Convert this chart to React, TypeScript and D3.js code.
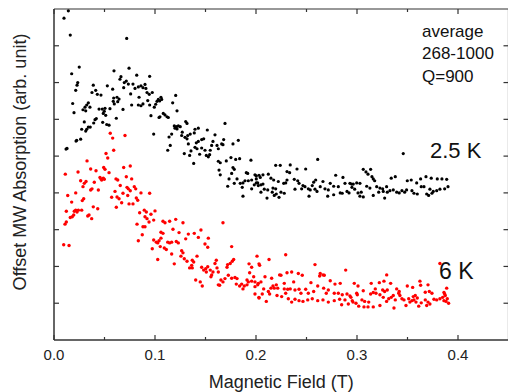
import React from "react";
import * as d3 from "d3";

// Field in mT, signal in arbitrary units (offset)
const series25K: [number, number][] = [
  [14.2, 8.95], [9.9, 8.75], [16.1, 8.29], [72.0, 8.2], [25.0, 7.42], [17.5, 7.24], [59.4, 7.32], [74.3, 7.39],
  [23.5, 7.0], [22.8, 6.93], [21.5, 6.79], [38.9, 6.93], [52.8, 6.91], [66.3, 7.16], [65.3, 7.09], [81.9, 7.2],
  [94.7, 7.17], [69.6, 7.0], [71.6, 7.04], [73.6, 6.96], [69.0, 6.86], [78.2, 6.96], [80.2, 6.84], [83.5, 6.88],
  [86.1, 6.91], [88.1, 6.86], [90.1, 6.95], [92.1, 6.73], [91.0, 6.84], [37.6, 6.73], [41.3, 6.79], [42.9, 6.68],
  [46.5, 6.66], [58.1, 6.82], [75.9, 6.69], [84.2, 6.6], [94.3, 6.68], [97.3, 6.73], [59.1, 6.58], [62.4, 6.6],
  [58.7, 6.49], [63.1, 6.48], [59.7, 6.42], [64.4, 6.55], [18.5, 6.43], [34.0, 6.45], [32.4, 6.39], [30.7, 6.33],
  [35.6, 6.33], [28.7, 6.26], [31.4, 6.23], [44.6, 6.28], [47.8, 6.28], [50.5, 6.3], [49.8, 6.22], [48.8, 6.16],
  [51.2, 6.11], [55.4, 6.29], [76.9, 6.39], [83.5, 6.39], [86.1, 6.37], [88.1, 6.42], [92.8, 6.51], [94.7, 6.39],
  [99.3, 6.33], [68.3, 6.27], [19.8, 6.18], [61.7, 6.03], [96.0, 6.1], [104.0, 6.05], [40.6, 5.99], [41.9, 6.02],
  [39.3, 5.9], [35.9, 5.79], [48.2, 5.92], [52.2, 5.86], [54.5, 5.84], [30.0, 5.93], [27.4, 5.73], [31.4, 5.68],
  [32.4, 5.73], [34.0, 5.79], [98.7, 5.6], [22.5, 5.43], [26.4, 5.46], [21.8, 5.41], [11.9, 5.19], [12.9, 5.21],
  [120.5, 6.65], [105.9, 6.6], [103.3, 6.54], [102.0, 6.49], [104.6, 6.5], [106.6, 6.54], [100.7, 6.41], [117.5, 6.45],
  [121.8, 6.23], [108.2, 6.16], [109.9, 6.12], [111.9, 6.07], [113.2, 6.05], [104.9, 6.07], [130.4, 5.94], [131.7, 5.89],
  [169.3, 5.89], [119.1, 5.82], [121.1, 5.8], [123.1, 5.82], [125.0, 5.8], [121.8, 5.74], [119.8, 5.76], [142.9, 5.76],
  [139.6, 5.73], [138.9, 5.63], [151.8, 5.71], [134.9, 5.6], [132.4, 5.56], [127.0, 5.65], [126.4, 5.56], [129.7, 5.51],
  [131.7, 5.47], [116.5, 5.6], [113.9, 5.52], [159.4, 5.58], [146.2, 5.45], [148.2, 5.47], [142.9, 5.4], [140.9, 5.36],
  [168.0, 5.45], [166.0, 5.33], [167.3, 5.31], [182.5, 5.43], [177.2, 5.33], [157.4, 5.4], [156.1, 5.29], [161.4, 5.29],
  [162.7, 5.2], [133.0, 5.33], [115.1, 5.29], [112.6, 5.16], [139.6, 5.24], [141.6, 5.2], [146.2, 5.22], [149.5, 5.16],
  [154.7, 5.16], [135.6, 5.14], [129.0, 5.07], [134.3, 5.02], [144.2, 5.05], [150.8, 5.02], [152.8, 4.98], [154.1, 5.04],
  [175.2, 4.96], [179.9, 4.91], [183.8, 4.93], [195.0, 4.89], [170.6, 4.87], [138.3, 4.8], [162.7, 4.86], [164.6, 4.82],
  [177.2, 4.69], [178.5, 4.64], [175.9, 4.53], [163.4, 4.62], [164.6, 4.49], [190.4, 4.55], [191.8, 4.53], [200.3, 4.46],
  [203.0, 4.48], [173.3, 4.38], [181.2, 4.38], [187.1, 4.27], [189.1, 4.33], [192.4, 4.33], [195.7, 4.35], [172.0, 4.18],
  [178.5, 4.26], [184.4, 4.26], [186.4, 4.15], [195.7, 4.11], [198.3, 4.22], [200.3, 4.27], [202.3, 4.2], [187.1, 3.91],
  [261.1, 4.91], [219.5, 4.75], [224.0, 4.75], [233.9, 4.76], [240.6, 4.65], [249.2, 4.65], [230.7, 4.58], [233.3, 4.55],
  [278.9, 4.48], [286.1, 4.42], [199.0, 4.49], [206.9, 4.49], [212.2, 4.51], [200.3, 4.38], [204.2, 4.42], [214.8, 4.4],
  [217.5, 4.35], [222.1, 4.31], [227.4, 4.26], [237.9, 4.37], [241.3, 4.33], [242.6, 4.26], [230.7, 4.35], [229.4, 4.27],
  [257.1, 4.29], [259.1, 4.35], [255.7, 4.2], [266.3, 4.31], [273.5, 4.26], [276.9, 4.18], [281.5, 4.17], [288.1, 4.26],
  [294.7, 4.24], [246.5, 4.2], [248.5, 4.17], [251.8, 4.11], [253.7, 4.08], [263.6, 4.17], [268.3, 4.11], [271.6, 4.08],
  [201.7, 4.27], [204.9, 4.22], [206.9, 4.24], [208.2, 4.1], [211.6, 4.08], [204.9, 4.02], [216.1, 4.02], [220.1, 3.97],
  [224.7, 4.02], [228.0, 3.99], [219.5, 4.11], [216.8, 4.13], [210.9, 3.86], [222.8, 3.88], [218.1, 3.93], [252.5, 3.91],
  [271.0, 3.91], [276.9, 3.95], [283.4, 4.0], [285.4, 3.99], [290.1, 4.04], [292.1, 4.0], [258.4, 4.1], [260.4, 4.04],
  [245.2, 4.11], [238.6, 4.1], [345.8, 5.07], [306.2, 4.64], [308.9, 4.57], [310.9, 4.51], [313.5, 4.64], [316.1, 4.38],
  [317.5, 4.33], [314.8, 4.44], [333.9, 4.4], [337.9, 4.44], [349.8, 4.33], [353.7, 4.35], [363.0, 4.38], [368.3, 4.44],
  [373.5, 4.4], [379.5, 4.38], [384.1, 4.38], [388.8, 4.37], [293.0, 4.26], [296.3, 4.24], [299.7, 4.27], [302.9, 4.26],
  [295.0, 4.15], [297.7, 4.1], [301.0, 4.0], [304.2, 4.02], [302.9, 3.91], [309.6, 4.18], [312.8, 4.13], [319.5, 4.17],
  [322.7, 4.13], [325.4, 4.11], [329.3, 4.17], [321.5, 4.02], [326.0, 4.04], [330.0, 4.02], [332.6, 4.06], [335.9, 4.08],
  [339.3, 4.02], [341.8, 4.0], [344.5, 4.06], [347.2, 4.02], [349.1, 4.08], [354.4, 4.06], [356.4, 3.99], [359.7, 3.97],
  [306.2, 3.89], [316.1, 3.93], [327.4, 3.86], [366.3, 4.17], [372.2, 4.1], [375.5, 4.04], [378.9, 4.06], [382.1, 4.1],
  [386.8, 4.11], [390.1, 4.17], [369.0, 3.97], [370.9, 3.93], [374.2, 3.99], [359.1, 4.27], [363.6, 4.17],
];

const series6K: [number, number][] = [
  [70.3, 5.56], [55.7, 5.62], [58.1, 5.49], [59.1, 5.16], [51.5, 5.07], [53.2, 4.95], [32.7, 4.87], [11.2, 4.51],
  [23.8, 4.57], [36.3, 4.65], [41.6, 4.6], [49.2, 4.69], [50.5, 4.64], [54.5, 4.55], [45.5, 4.42], [47.2, 4.35],
  [48.8, 4.4], [46.5, 4.38], [49.8, 4.37], [69.0, 4.69], [75.5, 4.73], [71.6, 4.44], [76.9, 4.38], [61.4, 4.38],
  [63.1, 4.35], [26.4, 4.33], [31.7, 4.31], [30.0, 4.26], [28.7, 4.17], [39.9, 4.29], [65.6, 4.2], [37.6, 4.11],
  [36.3, 4.08], [43.9, 4.08], [60.4, 4.04], [72.3, 4.15], [73.6, 4.11], [75.5, 4.06], [79.5, 4.17], [80.9, 4.11],
  [21.5, 4.0], [13.6, 3.93], [68.3, 3.99], [73.0, 3.93], [86.1, 4.0], [57.1, 3.88], [62.4, 3.89], [64.4, 3.84],
  [81.5, 3.86], [82.9, 3.8], [94.7, 3.99], [29.4, 3.84], [28.0, 3.79], [17.5, 3.75], [67.0, 3.73], [74.3, 3.7],
  [78.2, 3.7], [38.9, 3.62], [43.3, 3.57], [61.7, 3.61], [24.1, 3.53], [21.5, 3.53], [20.1, 3.5], [22.8, 3.48],
  [27.4, 3.53], [19.5, 3.4], [18.1, 3.35], [16.1, 3.33], [12.2, 3.5], [34.7, 3.4], [33.4, 3.37], [37.3, 3.3],
  [89.4, 3.53], [91.4, 3.48], [90.1, 3.35], [92.1, 3.3], [84.8, 3.46], [96.0, 3.42], [98.7, 3.26], [94.1, 3.21],
  [12.2, 3.21], [10.9, 3.15], [82.2, 3.15], [88.1, 3.08], [90.1, 3.08], [87.4, 2.86], [83.5, 2.7], [9.6, 2.59],
  [14.9, 2.57], [98.7, 2.72], [101.3, 2.66], [104.0, 2.7], [97.3, 2.48], [102.7, 2.19],
  [100.0, 3.51], [120.5, 3.28], [114.5, 3.23], [109.9, 3.19], [107.9, 3.23], [127.7, 3.19], [167.3, 3.19], [117.8, 3.01],
  [105.9, 2.93], [107.9, 2.9], [123.8, 2.92], [133.0, 2.88], [138.9, 2.9], [145.5, 2.99], [130.4, 2.75], [142.9, 2.79],
  [152.8, 2.77], [102.7, 2.64], [105.9, 2.77], [112.6, 2.66], [114.5, 2.64], [116.5, 2.66], [121.1, 2.68], [123.1, 2.64],
  [149.5, 2.61], [152.2, 2.52], [105.2, 2.54], [109.2, 2.5], [111.2, 2.46], [175.9, 2.54], [126.4, 2.43], [127.7, 2.37],
  [116.5, 2.34], [125.7, 2.28], [129.0, 2.21], [131.7, 2.14], [141.6, 2.28], [136.9, 2.17], [138.3, 2.12], [136.3, 2.03],
  [134.3, 1.96], [136.9, 1.96], [119.1, 2.07], [177.9, 2.19], [176.5, 2.14], [174.5, 2.08], [171.9, 2.05], [171.3, 1.98],
  [160.7, 2.17], [159.4, 2.08], [161.4, 1.96], [162.7, 1.85], [146.2, 1.98], [148.2, 1.9], [150.2, 1.94], [152.2, 1.99],
  [154.7, 1.9], [157.4, 1.85], [150.8, 1.85], [193.1, 2.07], [195.7, 1.98], [201.0, 2.28], [203.0, 2.07], [193.7, 1.83],
  [197.7, 1.72], [199.0, 1.58], [172.6, 1.76], [175.9, 1.68], [179.2, 1.7], [181.2, 1.67], [165.3, 1.63], [169.3, 1.67],
  [167.3, 1.58], [162.7, 1.5], [164.0, 1.49], [156.1, 1.77], [155.4, 1.72], [140.3, 1.63], [144.8, 1.58], [146.8, 1.47],
  [180.5, 1.52], [183.8, 1.47], [185.8, 1.52], [188.4, 1.47], [191.1, 1.5], [187.1, 1.39], [191.1, 1.63], [192.4, 1.58],
  [195.7, 1.6], [199.0, 1.25], [203.0, 1.14],
  [212.9, 2.19], [229.4, 2.32], [203.6, 2.03], [258.4, 2.05], [288.8, 1.9], [223.4, 1.77], [224.7, 1.76], [230.7, 1.83],
  [235.3, 1.85], [241.9, 1.81], [245.8, 1.76], [208.9, 1.72], [215.5, 1.68], [263.6, 1.81], [266.3, 1.77], [267.6, 1.76],
  [263.0, 1.74], [202.3, 1.54], [204.9, 1.58], [199.0, 1.45], [201.7, 1.5], [216.8, 1.47], [220.1, 1.5], [214.8, 1.41],
  [218.1, 1.41], [221.5, 1.41], [228.0, 1.54], [237.3, 1.58], [254.4, 1.56], [261.1, 1.47], [273.5, 1.61], [278.2, 1.52],
  [283.4, 1.54], [297.3, 1.54], [228.0, 1.39], [231.4, 1.38], [233.9, 1.39], [238.6, 1.36], [242.6, 1.38], [244.5, 1.27],
  [249.2, 1.38], [251.8, 1.27], [257.1, 1.32], [267.0, 1.41], [271.6, 1.36], [269.6, 1.27], [277.5, 1.27], [281.5, 1.27],
  [285.4, 1.23], [290.1, 1.25], [207.6, 1.39], [212.2, 1.32], [206.2, 1.25], [213.5, 1.25], [220.8, 1.21], [225.4, 1.18],
  [229.4, 1.27], [202.9, 1.16], [238.6, 1.11], [242.6, 1.07], [246.5, 1.05], [251.2, 1.09], [255.7, 1.12], [261.1, 1.07],
  [266.3, 1.09], [271.6, 1.03], [277.5, 1.07], [282.8, 1.11], [288.1, 1.09], [294.0, 1.16], [295.3, 1.07], [210.2, 1.05],
  [232.0, 1.12], [235.3, 1.03], [284.8, 0.96], [291.4, 0.98], [296.0, 1.03],
  [382.1, 2.08], [329.4, 1.77], [301.0, 1.47], [314.1, 1.54], [322.1, 1.56], [326.7, 1.6], [333.3, 1.54], [362.3, 1.6],
  [370.3, 1.5], [363.0, 1.49], [388.8, 1.41], [349.8, 1.47], [355.1, 1.43], [306.2, 1.34], [318.1, 1.39], [325.4, 1.36],
  [327.4, 1.32], [330.0, 1.36], [339.3, 1.39], [341.3, 1.27], [341.8, 1.32], [367.6, 1.3], [371.6, 1.32], [374.2, 1.27],
  [386.1, 1.29], [386.8, 1.25], [299.7, 1.27], [300.3, 1.23], [313.5, 1.25], [316.1, 1.29], [318.8, 1.27], [322.7, 1.23],
  [326.0, 1.16], [331.4, 1.12], [333.9, 1.16], [335.9, 1.21], [342.5, 1.21], [344.5, 1.12], [346.5, 1.09], [351.2, 1.12],
  [355.7, 1.18], [357.7, 1.21], [359.7, 1.14], [293.0, 1.2], [299.0, 1.0], [304.9, 1.09], [307.6, 1.05], [311.6, 1.03],
  [301.7, 0.92], [306.9, 0.9], [310.9, 0.9], [316.1, 0.9], [322.7, 0.94], [329.3, 1.05], [337.9, 1.09], [336.6, 0.87],
  [348.5, 0.94], [352.4, 1.03], [354.4, 1.07], [356.4, 1.09], [358.4, 1.03], [361.1, 0.92], [363.6, 1.01], [367.6, 1.09],
  [370.3, 1.03], [372.2, 0.98], [369.0, 0.94], [376.2, 1.11], [378.9, 1.09], [382.1, 1.12], [384.8, 1.16], [386.1, 1.07],
  [388.1, 1.05], [389.4, 1.12], [390.7, 1.0], [387.4, 1.21],
];

const xMajorTicks = [0, 0.1, 0.2, 0.3, 0.4];
const xMinorTicks = [0.05, 0.15, 0.25, 0.35];
const yTicks = [1, 2, 3, 4, 5, 6, 7, 8];
const infoLines = ["average", "268-1000", "Q=900"];
const seriesLabels = ["2.5 K", "6 K"];

const W = 508;
const H = 392;
const FONT = "'Liberation Sans', Arial, Helvetica, sans-serif";

export default function App() {
  const x = d3.scaleLinear().domain([0, 0.45]).range([54, 508.5]);
  const y = d3.scaleLinear().domain([0, 9]).range([340, 9]);
  const axisColor = "#333";
  const [x0, x1] = x.range();
  const [yb, yt] = y.range();

  return (
    <div style={{ position: "absolute", left: 0, top: 0 }}>
      <svg width={W} height={H} style={{ display: "block", background: "#fff" }}>
        {/* frame */}
        <line x1={x0} x2={x0} y1={yt} y2={yb} stroke={axisColor} strokeWidth={1.5} />
        <line x1={x0} x2={x1} y1={yb} y2={yb} stroke={axisColor} strokeWidth={1.5} />
        <line x1={x0} x2={x1} y1={yt} y2={yt} stroke={axisColor} strokeWidth={1.2} />
        <line x1={x1} x2={x1} y1={yt} y2={yb} stroke={axisColor} strokeWidth={1.2} />
        {/* x ticks */}
        {xMajorTicks.map((t) => (
          <g key={"xm" + t}>
            <line x1={x(t)} x2={x(t)} y1={yb} y2={yb - 5} stroke={axisColor} strokeWidth={1.2} />
            <line x1={x(t)} x2={x(t)} y1={yt} y2={yt + 5} stroke={axisColor} strokeWidth={1.2} />
            <text x={x(t)} y={360} textAnchor="middle" fontFamily={FONT} fontSize={15} fill="#222">
              {d3.format(".1f")(t)}
            </text>
          </g>
        ))}
        {xMinorTicks.map((t) => (
          <g key={"xn" + t}>
            <line x1={x(t)} x2={x(t)} y1={yb} y2={yb - 3} stroke={axisColor} strokeWidth={1.2} />
            <line x1={x(t)} x2={x(t)} y1={yt} y2={yt + 3} stroke={axisColor} strokeWidth={1.2} />
          </g>
        ))}
        {/* y ticks */}
        {yTicks.map((t) => (
          <g key={"y" + t}>
            <line x1={x0} x2={x0 + 5} y1={y(t)} y2={y(t)} stroke={axisColor} strokeWidth={1.2} />
            <line x1={x1} x2={x1 - 5} y1={y(t)} y2={y(t)} stroke={axisColor} strokeWidth={1.2} />
          </g>
        ))}
        {/* data */}
        {series25K.map((d, i) => (
          <circle key={"b" + i} cx={x(d[0] / 1000)} cy={y(d[1])} r={1.6} fill="#000" />
        ))}
        {series6K.map((d, i) => (
          <circle key={"r" + i} cx={x(d[0] / 1000)} cy={y(d[1])} r={1.7} fill="#ff0000" />
        ))}
        {/* annotations */}
        {infoLines.map((s, i) => (
          <text key={s} x={422} y={37 + i * 22.3} fontFamily={FONT} fontSize={17} fill="#111">
            {s}
          </text>
        ))}
        <text x={430} y={158} fontFamily={FONT} fontSize={22} fill="#111">
          {seriesLabels[0]}
        </text>
        <text x={439} y={279} fontFamily={FONT} fontSize={23} fill="#111">
          {seriesLabels[1]}
        </text>
        {/* axis titles */}
        <text x={(x0 + x1) / 2} y={388} textAnchor="middle" fontFamily={FONT} fontSize={18} fill="#222">
          Magnetic Field (T)
        </text>
        <text
          transform={`translate(26, 162) rotate(-90)`}
          textAnchor="middle"
          fontFamily={FONT}
          fontSize={18}
          fill="#222"
        >
          Offset MW Absorption (arb. unit)
        </text>
      </svg>
    </div>
  );
}
